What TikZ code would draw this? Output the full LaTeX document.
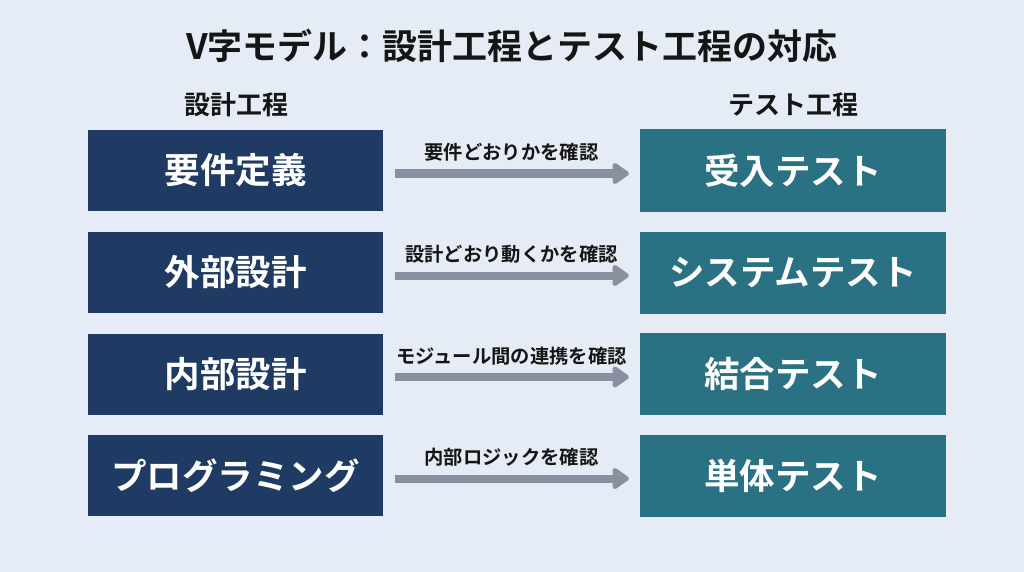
\documentclass[tikz,border=0pt]{standalone}
\usepackage{fontspec}
\setmainfont{Noto Sans CJK JP}[BoldFont={* Bold}]
\usepackage{tikz}
\usetikzlibrary{arrows.meta}
\definecolor{bgcol}{HTML}{E6ECF5}
\definecolor{designcol}{HTML}{1F3B63}
\definecolor{testcol}{HTML}{2A7183}
\definecolor{arrowcol}{HTML}{8A909F}
\definecolor{inkcol}{HTML}{151515}
\tikzset{
    designbox/.style={fill=designcol,text=white,minimum width=295pt,minimum height=81pt,inner sep=0pt,font=\fontsize{35.5}{40}\selectfont\bfseries},
    testbox/.style={fill=testcol,text=white,minimum width=306pt,minimum height=82pt,inner sep=0pt,font=\fontsize{35.5}{40}\selectfont\bfseries},
    checkarrow/.style={draw=arrowcol,line width=8pt,-{Triangle[length=18pt,width=24pt,round]},shorten <=12pt,shorten >=11pt},
    checklabel/.style={text=inkcol,font=\fontsize{19.3}{22}\selectfont\bfseries,yshift=21pt}
}
\begin{document}
\begin{tikzpicture}[x=1pt,y=-1pt]
    \fill[bgcol] (0,0) rectangle (1024,572);
    \useasboundingbox (0,0) rectangle (1024,572);
    \node[text=inkcol,font=\fontsize{35}{40}\selectfont\bfseries] (title) at (512,46) {V字モデル：設計工程とテスト工程の対応};
    \node[text=inkcol,font=\fontsize{26}{30}\selectfont\bfseries] (designhead) at (236,105) {設計工程};
    \node[text=inkcol,font=\fontsize{26}{30}\selectfont\bfseries] (testhead) at (793,105) {テスト工程};
    % design side
    \node[designbox] (req) at (235.5,170.5) {要件定義};
    \node[designbox] (ext) at (235.5,272.5) {外部設計};
    \node[designbox] (int) at (235.5,374) {内部設計};
    \node[designbox] (prog) at (235.5,475.5) {プログラミング};
    % test side
    \node[testbox] (acc) at (793,170.5) {受入テスト};
    \node[testbox] (sys) at (793,272.5) {システムテスト};
    \node[testbox] (integ) at (793,374) {結合テスト};
    \node[testbox] (unit) at (793,475.5) {単体テスト};
    % correspondences
    \draw[checkarrow] ([yshift=-3pt]req.east) -- ([yshift=-3pt]acc.west) node[midway,checklabel]{要件どおりかを確認};
    \draw[checkarrow] ([yshift=-3pt]ext.east) -- ([yshift=-3pt]sys.west) node[midway,checklabel]{設計どおり動くかを確認};
    \draw[checkarrow] ([yshift=-3pt]int.east) -- ([yshift=-3pt]integ.west) node[midway,checklabel]{モジュール間の連携を確認};
    \draw[checkarrow] ([yshift=-3pt]prog.east) -- ([yshift=-3pt]unit.west) node[midway,checklabel]{内部ロジックを確認};
\end{tikzpicture}
\end{document}
